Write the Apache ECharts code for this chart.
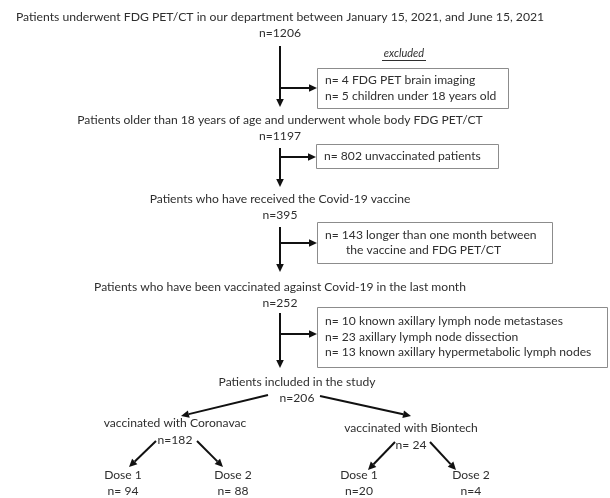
<!DOCTYPE html>
<html>
<head>
<meta charset="utf-8">
<script src="https://cdn.jsdelivr.net/npm/echarts@6/dist/echarts.min.js"></script>
<style>
  html, body { margin: 0; padding: 0; background: #fff; }
  #main { width: 610px; height: 498px; }
</style>
</head>
<body>
<div id="main"></div>
<script>
// flow data
var stageLabels = [
  'Patients underwent FDG PET/CT in our department between January 15, 2021, and June 15, 2021',
  'Patients older than 18 years of age and underwent whole body FDG PET/CT',
  'Patients who have received the Covid-19 vaccine',
  'Patients who have been vaccinated against Covid-19 in the last month',
  'Patients included in the study'
]
var stageCounts = [1206, 1197, 395, 252, 206]

var excludedCounts = [[4, 5], [802], [143], [10, 23, 13]]
var excludedReasons = [
  ['FDG PET brain imaging', 'children under 18 years old'],
  ['unvaccinated patients'],
  ['longer than one month between\nthe vaccine and FDG PET/CT'],
  ['known axillary lymph node metastases', 'axillary lymph node dissection', 'known axillary hypermetabolic lymph nodes']
]

var vaccineNames = ['Coronavac', 'Biontech']
var vaccineCounts = [182, 24]
var doseNames = ['Dose 1', 'Dose 2']
var doseCounts = [[94, 88], [20, 4]]

// layout
var FONT = 'Lato'
var FS = 12.1
var TXT = '#2e2e2e'
var trunkX = 280
var stageX = [280, 280, 280, 280, 297]
var stageY = [17, 120, 199, 287, 382]
var stageFS = [12.2, FS, FS, FS, FS]
var trunk = [[46, 107], [148, 187], [227, 272], [313, 368]]
var boxes = [
  { x: 317, y: 68, w: 191, h: 40 },
  { x: 316, y: 144, w: 182, h: 24 },
  { x: 317, y: 222, w: 235, h: 41 },
  { x: 317, y: 307, w: 290, h: 60 }
]
var branchY = [88, 157, 243, 334]
var vacPos = [[175, 423], [411, 428]]
var vacArrows = [[[268, 395], [181, 416]], [[320, 396], [411, 416]]]
var doseArrows = [
  [[[156, 441], [129, 467]], [[197, 441], [223, 467]]],
  [[[395, 442], [368, 470]], [[430, 442], [456, 470]]]
]
var doseX = [[123, 233], [359, 471]]
var nGap = { vaccine: ['', ' '], dose: [' ', ''] }

var els = []

function text(str, x, y, opt) {
  opt = opt || {}
  els.push({
    type: 'text',
    x: x,
    y: y,
    style: {
      text: str,
      fill: TXT,
      font: (opt.style || '') + ' ' + (opt.size || FS) + 'px ' + FONT,
      align: opt.align || 'center',
      verticalAlign: 'middle',
      lineHeight: opt.lh || 15.5
    }
  })
}

function arrow(p0, p1, w) {
  var dx = p1[0] - p0[0], dy = p1[1] - p0[1]
  var len = Math.sqrt(dx * dx + dy * dy)
  var ux = dx / len, uy = dy / len
  var hl = 8, hw = 3.8
  var bx = p1[0] - ux * hl, by = p1[1] - uy * hl
  els.push({
    type: 'line',
    shape: { x1: p0[0], y1: p0[1], x2: bx, y2: by },
    style: { stroke: '#111', lineWidth: w || 2 }
  })
  els.push({
    type: 'polygon',
    shape: { points: [[p1[0], p1[1]], [bx - uy * hw, by + ux * hw], [bx + uy * hw, by - ux * hw]] },
    style: { fill: '#111' }
  })
}

// stages
for (var i = 0; i < stageLabels.length; i++) {
  text(stageLabels[i], stageX[i], stageY[i], { size: stageFS[i] })
  text('n=' + stageCounts[i], stageX[i], stageY[i] + 16)
}

// trunk + exclusion boxes
for (var i = 0; i < trunk.length; i++) {
  arrow([trunkX, trunk[i][0]], [trunkX, trunk[i][1]])
  arrow([trunkX - 1, branchY[i]], [boxes[i].x, branchY[i]])
  var b = boxes[i]
  els.push({
    type: 'rect',
    shape: { x: b.x + 0.5, y: b.y + 0.5, width: b.w, height: b.h },
    style: { fill: 'none', stroke: '#8c8c8c', lineWidth: 1 }
  })
  var lines = []
  for (var k = 0; k < excludedCounts[i].length; k++) {
    var parts = excludedReasons[i][k].split('\n')
    lines.push({ t: 'n= ' + excludedCounts[i][k] + ' ' + parts[0], ind: 0 })
    for (var m = 1; m < parts.length; m++) lines.push({ t: parts[m], ind: 21 })
  }
  var cy = b.y + b.h / 2
  for (var k = 0; k < lines.length; k++) {
    text(lines[k].t, b.x + 8 + lines[k].ind, cy + (k - (lines.length - 1) / 2) * 15.5, { align: 'left' })
  }
}

// excluded heading
text('excluded', 404, 53, { style: 'italic', size: 11 })
els.push({
  type: 'line',
  shape: { x1: 382, y1: 60.5, x2: 426, y2: 60.5 },
  style: { stroke: TXT, lineWidth: 1 }
})

// vaccines and doses
for (var v = 0; v < vaccineNames.length; v++) {
  arrow(vacArrows[v][0], vacArrows[v][1])
  text('vaccinated with ' + vaccineNames[v], vacPos[v][0], vacPos[v][1])
  text('n=' + nGap.vaccine[v] + vaccineCounts[v], vacPos[v][0], vacPos[v][1] + 17)
  for (var d = 0; d < doseNames.length; d++) {
    arrow(doseArrows[v][d][0], doseArrows[v][d][1])
    text(doseNames[d], doseX[v][d], 475)
    text('n=' + nGap.dose[v] + doseCounts[v][d], doseX[v][d], 491)
  }
}

var chart = echarts.init(document.getElementById('main'))
chart.setOption({
  backgroundColor: '#fff',
  animation: false,
  graphic: { elements: els }
})
</script>
</body>
</html>
